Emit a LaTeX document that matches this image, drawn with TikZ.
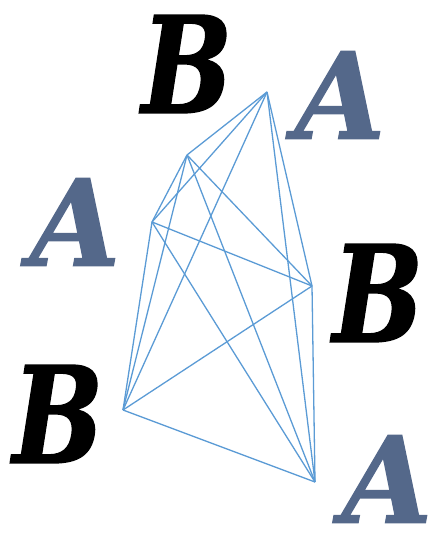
\documentclass[tikz,border=0pt]{standalone}
\usepackage{fontspec}
\newfontfamily\letterfont{DejaVu Serif}[BoldItalicFeatures={FakeBold=1.2}]
\definecolor{slate}{RGB}{84,104,138}
\definecolor{edgeblue}{RGB}{91,155,213}
\newcommand{\narrowletter}[1]{\scalebox{0.8}[1]{#1}}
\newcommand{\wideletter}[1]{\scalebox{0.97}[1]{#1}}
\begin{document}
\begin{tikzpicture}[x=1pt,y=-1pt,
  bletter/.style={inner sep=0pt, text=black, font=\letterfont\bfseries\itshape\fontsize{134}{134}\selectfont},
  aletter/.style={inner sep=0pt, text=slate, font=\letterfont\bfseries\itshape\fontsize{120}{120}\selectfont},
  vtx/.style={coordinate},
  edge/.style={draw=edgeblue, line width=1.3pt}]
\useasboundingbox (0,0) rectangle (439,534);
\node[bletter] (b1) at (187,64) {\narrowletter{B}};
\node[aletter] (a1) at (340,95) {\wideletter{A}};
\node[aletter] (a2) at (75,222) {\wideletter{A}};
\node[bletter] (b2) at (378,293) {\narrowletter{B}};
\node[bletter] (b3) at (58,414) {\narrowletter{B}};
\node[aletter] (a3) at (387,479) {\wideletter{A}};
\node[vtx] (p1) at (267,92) {};
\node[vtx] (p2) at (187,155) {};
\node[vtx] (p3) at (152,222) {};
\node[vtx] (p4) at (312,286) {};
\node[vtx] (p5) at (123,410) {};
\node[vtx] (p6) at (315,482) {};
\foreach \u/\v in {p1/p2,p1/p3,p1/p4,p1/p5,p1/p6,p2/p3,p2/p4,p2/p5,p2/p6,p3/p4,p3/p5,p3/p6,p4/p5,p4/p6,p5/p6}
  \draw[edge] (\u) -- (\v);
\end{tikzpicture}
\end{document}
